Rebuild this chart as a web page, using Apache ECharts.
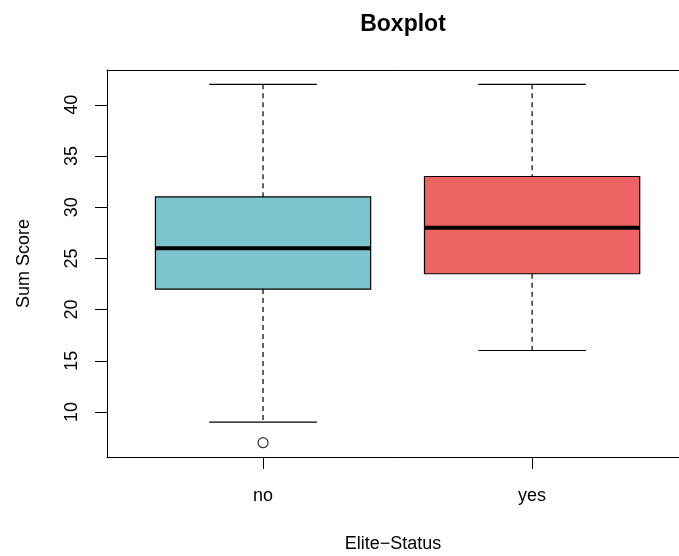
<!DOCTYPE html>
<html>
<head>
<meta charset="utf-8">
<script src="https://cdn.jsdelivr.net/npm/echarts@6/dist/echarts.min.js"></script>
<style>
  html, body { margin: 0; padding: 0; background: #fff; }
  #box { width: 679px; height: 556px; }
</style>
</head>
<body>
<div id="box"></div>
<script>
// data
var categories = ['no', 'yes'];
var lowerWhisker = [9, 16];
var q1 = [22, 23.5];
var median = [26, 28];
var q3 = [31, 33];
var upperWhisker = [42, 42];
var outlierGroup = [0];
var outlierValue = [7];
var yTicks = [10, 15, 20, 25, 30, 35, 40];

var boxColors = ['#7AC5CD', '#EE6363'];
var font = 'Liberation Sans, Arial, Helvetica, sans-serif';

var boxData = categories.map(function (c, i) {
    return [i + 1, lowerWhisker[i], q1[i], median[i], q3[i], upperWhisker[i]];
});
var outlierData = outlierGroup.map(function (g, i) {
    return [g + 1, outlierValue[i]];
});

var chart = echarts.init(document.getElementById('box'));

function renderBox(params, api) {
    var x = api.value(0);
    var lo = api.coord([x, api.value(1)]);
    var b1 = api.coord([x - 0.4, api.value(2)]);
    var b2 = api.coord([x + 0.4, api.value(4)]);
    var m1 = api.coord([x - 0.4, api.value(3)]);
    var m2 = api.coord([x + 0.4, api.value(3)]);
    var hi = api.coord([x, api.value(5)]);
    var capL = api.coord([x - 0.2, 0])[0];
    var capR = api.coord([x + 0.2, 0])[0];
    var dash = { stroke: '#000', lineWidth: 1.2, lineDash: [5, 4] };
    var solid = { stroke: '#000', lineWidth: 1.2 };
    return {
        type: 'group',
        children: [
            { type: 'line', shape: { x1: hi[0], y1: hi[1], x2: hi[0], y2: b2[1] }, style: dash },
            { type: 'line', shape: { x1: lo[0], y1: b1[1], x2: lo[0], y2: lo[1] }, style: dash },
            { type: 'line', shape: { x1: capL, y1: hi[1], x2: capR, y2: hi[1] }, style: solid },
            { type: 'line', shape: { x1: capL, y1: lo[1], x2: capR, y2: lo[1] }, style: solid },
            {
                type: 'rect',
                shape: { x: b1[0], y: b2[1], width: b2[0] - b1[0], height: b1[1] - b2[1] },
                style: { fill: boxColors[params.dataIndex], stroke: '#000', lineWidth: 1.2 }
            },
            { type: 'line', shape: { x1: m1[0], y1: m1[1], x2: m2[0], y2: m2[1] }, style: { stroke: '#000', lineWidth: 4 } }
        ]
    };
}

var option = {
    animation: false,
    backgroundColor: '#fff',
    title: {
        text: 'Boxplot',
        left: 398,
        top: 8,
        textAlign: 'center',
        textStyle: { fontFamily: font, fontSize: 23, fontWeight: 'bold', color: '#000' }
    },
    grid: {
        left: 107,
        right: 0,
        top: 70,
        bottom: 99,
        outerBoundsMode: 'none',
        containLabel: false
    },
    xAxis: [
        {
            type: 'value',
            position: 'bottom',
            min: 0.42,
            max: 2.546,
            name: 'Elite\u2212Status',
            nameLocation: 'middle',
            nameGap: 78,
            nameTextStyle: { fontFamily: font, fontSize: 18, color: '#000' },
            axisLine: { show: true, lineStyle: { color: '#000', width: 1 } },
            splitLine: { show: false },
            axisTick: { show: true, length: 12, customValues: [1, 2], lineStyle: { color: '#000' } },
            axisLabel: {
                customValues: [1, 2],
                margin: 30,
                fontFamily: font,
                fontSize: 18,
                color: '#000',
                formatter: function (v) { return categories[Math.round(v) - 1]; }
            }
        },
        {
            type: 'value',
            position: 'top',
            min: 0.42,
            max: 2.546,
            axisLine: { show: true, lineStyle: { color: '#000', width: 1 } },
            splitLine: { show: false },
            axisTick: { show: false },
            axisLabel: { show: false }
        }
    ],
    yAxis: {
        type: 'value',
        min: 5.6,
        max: 43.4,
        name: 'Sum Score',
        nameLocation: 'middle',
        nameGap: 74,
        nameTextStyle: { fontFamily: font, fontSize: 18, color: '#000' },
        axisLine: { show: true, lineStyle: { color: '#000', width: 1 } },
        splitLine: { show: false },
        axisTick: { show: true, length: 12, customValues: yTicks, lineStyle: { color: '#000' } },
        axisLabel: {
            customValues: yTicks,
            rotate: 90,
            margin: 26,
            fontFamily: font,
            fontSize: 18,
            color: '#000'
        }
    },
    series: [
        {
            type: 'custom',
            renderItem: renderBox,
            data: boxData,
            encode: { x: 0, y: [1, 2, 3, 4, 5] },
            z: 2
        },
        {
            type: 'scatter',
            data: outlierData,
            symbol: 'circle',
            symbolSize: 10,
            itemStyle: { color: '#fff', borderColor: '#000', borderWidth: 1.2 },
            z: 3
        }
    ]
};
chart.setOption(option);
</script>
</body>
</html>
